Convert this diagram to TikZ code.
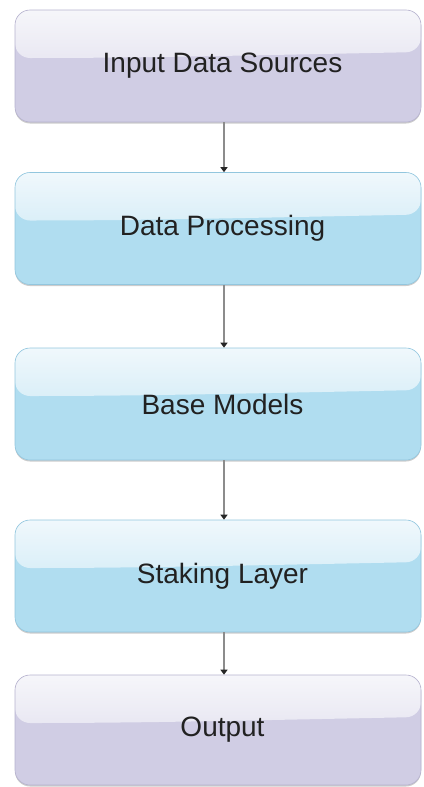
\documentclass[tikz,border=0pt]{standalone}
\usepackage{fontspec}
\setmainfont{Liberation Sans}
\usetikzlibrary{arrows.meta,shadows}
\definecolor{lavbase}{RGB}{208,205,228}
\definecolor{lavtop}{RGB}{246,246,250}
\definecolor{lavline}{RGB}{182,178,206}
\definecolor{bluebase}{RGB}{176,221,240}
\definecolor{bluetop}{RGB}{240,248,252}
\definecolor{blueline}{RGB}{146,198,222}
\newcommand\myglossfill[2]{%
  \fill[top color=#1, bottom color=#2]
    (path picture bounding box.north west) -- (path picture bounding box.north east)
    -- ([yshift=-42pt]path picture bounding box.north east)
    .. controls +(-200pt,-4pt) and +(120pt,0pt) ..
    ([yshift=-48pt]path picture bounding box.north west) -- cycle;}
\tikzset{
  stage/.style={rounded corners=15pt, minimum width=406pt, minimum height=112pt,
    inner sep=0pt, line width=0.6pt, font=\fontsize{28}{32}\selectfont, text=black!87,
    execute at begin node={\hspace*{9pt}},
    drop shadow={shadow xshift=0pt, shadow yshift=-1.5pt, opacity=0.2, fill=black}},
  lavstage/.style={stage, fill=lavbase, draw=lavline,
    path picture={\myglossfill{lavtop}{lavbase!82!white}}},
  bluestage/.style={stage, fill=bluebase, draw=blueline,
    path picture={\myglossfill{bluetop}{bluebase!82!white}}},
  flow/.style={line width=1.4pt, draw=black!45,
    -{Triangle[length=5pt,width=7pt,fill=black!85,color=black!85]}}
}
\begin{document}
\begin{tikzpicture}[x=1pt,y=-1pt]
\useasboundingbox (0,0) rectangle (423,787);
\node[lavstage]  (src)  at (218,66)    {Input Data Sources};
\node[bluestage] (proc) at (218,228.5) {Data Processing};
\node[bluestage] (base) at (218,404)   {Base Models};
\node[bluestage] (stak) at (218,576)   {Staking Layer};
\node[lavstage, minimum height=110pt] (out) at (218,730) {Output};
\draw[flow] ([xshift=6pt]src.south)  -- ([xshift=6pt]proc.north);
\draw[flow] ([xshift=6pt]proc.south) -- ([xshift=6pt]base.north);
\draw[flow] ([xshift=6pt]base.south) -- ([xshift=6pt]stak.north);
\draw[flow] ([xshift=6pt]stak.south) -- ([xshift=6pt]out.north);
\end{tikzpicture}
\end{document}
